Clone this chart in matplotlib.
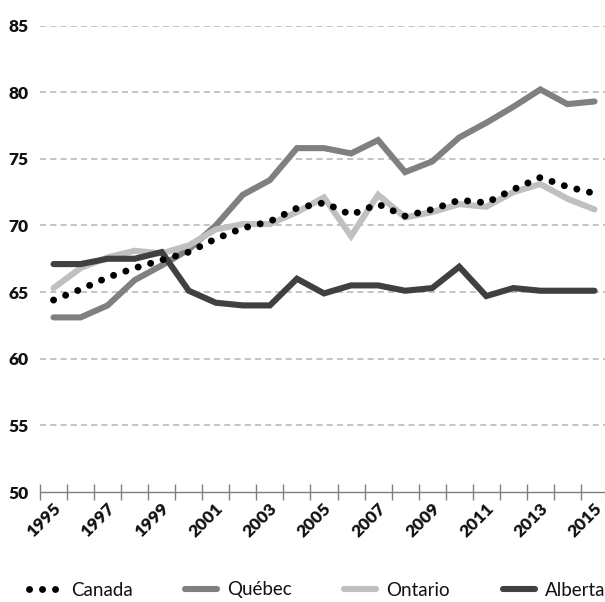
import matplotlib
matplotlib.use("Agg")
import matplotlib.pyplot as plt
from matplotlib.transforms import ScaledTranslation

years = list(range(1995, 2016))
canada = [64.4, 65.2, 66.1, 66.8, 67.4, 68.0, 69.0, 69.8, 70.3, 71.3, 71.7,
          70.8, 71.6, 70.7, 71.2, 71.9, 71.7, 72.7, 73.6, 72.9, 72.4]
quebec = [63.1, 63.1, 64.0, 65.9, 67.0, 68.2, 70.0, 72.3, 73.4, 75.8, 75.8,
          75.4, 76.4, 74.0, 74.8, 76.6, 77.7, 78.9, 80.2, 79.1, 79.3]
ontario = [65.3, 66.8, 67.6, 68.1, 67.9, 68.5, 69.7, 70.1, 70.1, 71.0, 72.1,
           69.2, 72.3, 70.6, 71.0, 71.6, 71.4, 72.5, 73.1, 72.0, 71.2]
alberta = [67.1, 67.1, 67.5, 67.5, 68.0, 65.1, 64.2, 64.0, 64.0, 66.0, 64.9,
           65.5, 65.5, 65.1, 65.3, 66.9, 64.7, 65.3, 65.1, 65.1, 65.1]
yticks = [50, 55, 60, 65, 70, 75, 80, 85]

plt.rcParams['font.family'] = ['Lato', 'DejaVu Sans']

W, H = 605, 602
fig = plt.figure(figsize=(W / 100, H / 100), dpi=100)
left, right, top, bottom = 40, 608, 25.5, 492
ax = fig.add_axes([left / W, 1 - bottom / H, (right - left) / W, (bottom - top) / H])

x = list(range(len(years)))
ax.set_xlim(-0.5, len(years) - 0.5)
ax.set_ylim(50, 85)

# gridlines
for v in yticks[1:]:
    ax.axhline(v, color='#b4b4b4', lw=1.1, linestyle=(0, (4, 2.7)), zorder=1)

lw = 4.4
ax.plot(x, quebec, color='#808080', lw=lw, solid_capstyle='round', solid_joinstyle='miter', zorder=3, label='Québec')
ax.plot(x, ontario, color='#c0c0c0', lw=lw, solid_capstyle='round', solid_joinstyle='miter', zorder=3, label='Ontario')
ax.plot(x, alberta, color='#404040', lw=lw, solid_capstyle='round', solid_joinstyle='miter', zorder=3, label='Alberta')
ax.plot(x, canada, color='black', lw=5.0, linestyle=(0, (0.01, 1.86)), dash_capstyle='round', zorder=4, label='Canada')

for s in ['top', 'right', 'left']:
    ax.spines[s].set_visible(False)
ax.spines['bottom'].set_color('#7f7f7f')
ax.spines['bottom'].set_linewidth(1.0)
ax.spines['bottom'].set_zorder(2)

ax.set_yticks(yticks)
ax.set_yticklabels([str(v) for v in yticks], fontsize=12.5, fontweight='heavy', color='#111111')
ax.tick_params(axis='y', length=0, pad=8)

ax.set_xticks([i - 0.5 for i in range(len(years) + 1)])
ax.set_xticklabels([])
ax.tick_params(axis='x', which='major', direction='inout', length=11, width=1.0, color='#7f7f7f')
ax.set_xticks(x[::2], minor=True)
ax.set_xticklabels([str(y) for y in years[::2]], minor=True, fontsize=12.5, fontweight='heavy',
                   color='#111111', rotation=45, ha='right', va='center', rotation_mode='anchor')
ax.tick_params(axis='x', which='minor', length=0, pad=10)
offset = ScaledTranslation(5 / 100, 0, fig.dpi_scale_trans)
for lab in ax.get_xticklabels(minor=True):
    lab.set_transform(lab.get_transform() + offset)

handles, labels = ax.get_legend_handles_labels()
order = [3, 0, 1, 2]
leg = fig.legend([handles[i] for i in order], [labels[i] for i in order],
                 loc='center', bbox_to_anchor=(317 / W, 1 - 590 / H), ncol=4, frameon=False,
                 fontsize=13.5, handlelength=1.7, handletextpad=0.55, columnspacing=2.8)
for t in leg.get_texts():
    t.set_color('#111111')

fig.savefig('out.png', dpi=100)
